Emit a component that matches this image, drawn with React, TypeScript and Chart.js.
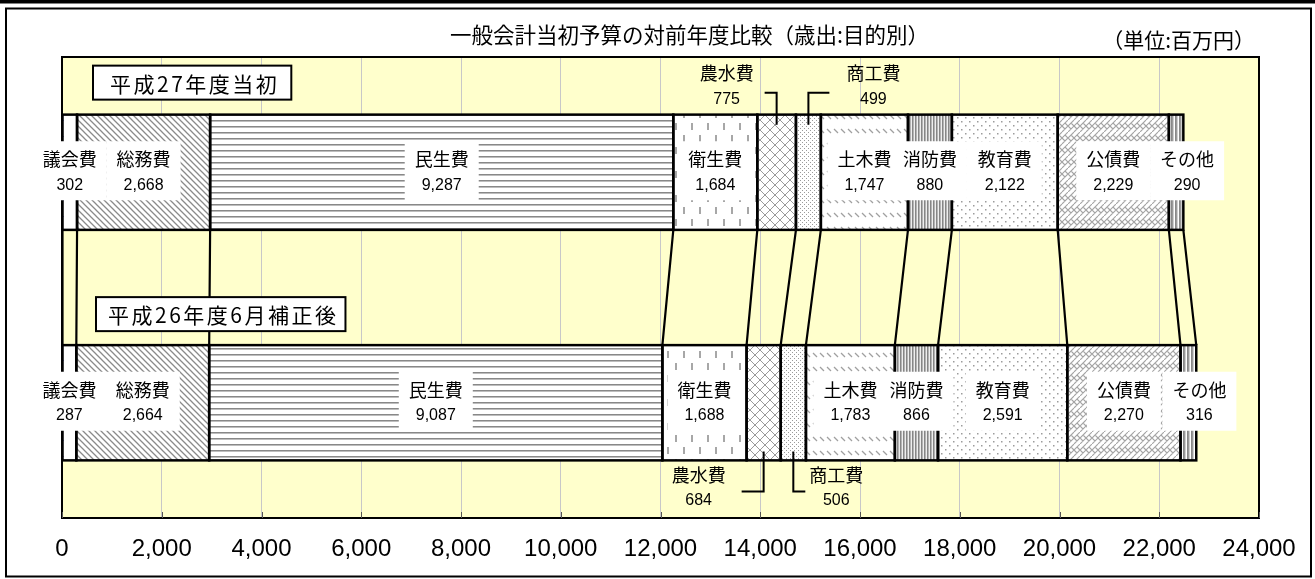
import React, { useEffect, useRef } from 'react';
import { Chart, registerables } from 'chart.js';

Chart.register(...registerables);

// ---------- data ----------
const periodLabels = ['平成27年度当初', '平成26年度6月補正後'];
const categories = ['議会費', '総務費', '民生費', '衛生費', '農水費', '商工費', '土木費', '消防費', '教育費', '公債費', 'その他'];
const valuesH27 = [302, 2668, 9287, 1684, 775, 499, 1747, 880, 2122, 2229, 290];
const valuesH26 = [287, 2664, 9087, 1688, 684, 506, 1783, 866, 2591, 2270, 316];
const xMin = 0;
const xMax = 24000;
const xStep = 2000;
const titleText = '一般会計当初予算の対前年度比較（歳出:目的別）';
const unitText = '（単位:百万円）';

// ---------- styles ----------
const CJK = '"Noto Sans CJK JP", "Noto Sans CJK SC", sans-serif';
const NUM = '"Liberation Sans", Arial, sans-serif';
const patternKinds = ['sparseDots', 'diagDown', 'horizontal', 'dashVertical', 'diagCross', 'fineDots', 'wideDiagDash', 'verticalDense', 'dotted', 'diagBrick', 'verticalWide'];
const insideLabelShift: Record<number, number> = { 10: 11 };
const outsideLabels: Record<number, { side: number; textDx: number[]; leaderLen: number[] }> = {
  4: { side: -1, textDx: [-50, -65], leaderLen: [12, 22] },
  5: { side: 1, textDx: [65, 43], leaderLen: [21, 12] },
};
const yearBoxStyle = [
  { dx: 31, padL: 17, padR: 12, gap: 15 },
  { dx: 34, padL: 12, padR: 7, gap: 14 },
];

function makeTile(w: number, h: number, draw: (g: CanvasRenderingContext2D) => void): CanvasPattern | string {
  const c = document.createElement('canvas');
  c.width = w;
  c.height = h;
  const g = c.getContext('2d') as CanvasRenderingContext2D;
  g.fillStyle = '#ffffff';
  g.fillRect(0, 0, w, h);
  draw(g);
  return g.createPattern(c, 'repeat') || '#ffffff';
}

function createPattern(kind: string): CanvasPattern | string {
  switch (kind) {
    case 'sparseDots':
      return makeTile(14, 16, (g) => { g.fillStyle = '#9aa0ff'; g.fillRect(7, 8, 1, 1); });
    case 'diagDown':
      return makeTile(6, 6, (g) => {
        g.strokeStyle = '#8a8a8a'; g.lineWidth = 1.3; g.beginPath();
        g.moveTo(-1, -1); g.lineTo(7, 7); g.moveTo(-1, 5); g.lineTo(1, 7); g.moveTo(5, -1); g.lineTo(7, 1);
        g.stroke();
      });
    case 'horizontal':
      return makeTile(4, 6, (g) => { g.fillStyle = '#888888'; g.fillRect(0, 0, 4, 1); g.fillStyle = '#bdbdbd'; g.fillRect(0, 1, 4, 1); });
    case 'dashVertical':
      return makeTile(16, 24, (g) => {
        g.strokeStyle = '#8a8a8a'; g.lineWidth = 1.5; g.beginPath();
        g.moveTo(4, 3); g.lineTo(4, 10); g.moveTo(12, 15); g.lineTo(12, 22); g.stroke();
      });
    case 'diagCross':
      return makeTile(10, 10, (g) => {
        g.strokeStyle = '#9a9a9a'; g.lineWidth = 1; g.beginPath();
        g.moveTo(0, 0); g.lineTo(10, 10); g.moveTo(10, 0); g.lineTo(0, 10); g.stroke();
      });
    case 'fineDots':
      return makeTile(4, 4, (g) => { g.fillStyle = '#9a9a9a'; g.fillRect(0, 0, 1, 1); g.fillRect(2, 2, 1, 1); });
    case 'wideDiagDash':
      return makeTile(7, 14, (g) => {
        g.strokeStyle = '#a0a0a0'; g.lineWidth = 1.2; g.beginPath(); g.moveTo(1, 3); g.lineTo(5, 7); g.stroke();
      });
    case 'verticalDense':
      return makeTile(3, 1, (g) => { g.fillStyle = '#868686'; g.fillRect(0, 0, 1, 1); g.fillStyle = '#b4b4b4'; g.fillRect(1, 0, 1, 1); g.fillStyle = '#eeeeee'; g.fillRect(2, 0, 1, 1); });
    case 'dotted':
      return makeTile(8, 8, (g) => { g.fillStyle = '#9c9c9c'; g.fillRect(1, 1, 1.5, 1.5); g.fillRect(5, 5, 1.5, 1.5); });
    case 'diagBrick':
      return makeTile(12, 12, (g) => {
        g.strokeStyle = '#a4a4a4'; g.lineWidth = 1.1; g.beginPath();
        g.moveTo(0, 6); g.lineTo(6, 0); g.moveTo(0, 12); g.lineTo(12, 0); g.moveTo(6, 12); g.lineTo(12, 6);
        g.moveTo(3, 3); g.lineTo(6, 6); g.moveTo(9, 3); g.lineTo(12, 6); g.moveTo(0, 6); g.lineTo(3, 9); g.moveTo(6, 6); g.lineTo(9, 9);
        g.stroke();
      });
    case 'verticalWide':
      return makeTile(4, 1, (g) => {
        g.fillStyle = '#9a9a9a'; g.fillRect(0, 0, 1, 1); g.fillStyle = '#cfcfcf'; g.fillRect(1, 0, 1, 1); g.fillStyle = '#888888'; g.fillRect(3, 0, 1, 1);
      });
    default:
      return '#ffffff';
  }
}

const fmt = (v: number) => v.toLocaleString('en-US');

const decorPlugin = {
  id: 'budgetDecor',
  beforeDraw(chart: any) {
    const { ctx, chartArea: a, width, height } = chart;
    ctx.save();
    ctx.fillStyle = '#ffffff';
    ctx.fillRect(0, 0, width, height);
    ctx.fillStyle = '#000000';
    ctx.fillRect(0, 0, width, 3.5);
    ctx.strokeStyle = '#000000';
    ctx.lineWidth = 2;
    ctx.strokeRect(6, 8.5, width - 10, height - 11);
    ctx.fillStyle = '#000000';
    ctx.textAlign = 'center';
    ctx.textBaseline = 'middle';
    ctx.font = `21.5px ${CJK}`;
    ctx.fillText(titleText, width / 2 + 32, 35);
    ctx.textAlign = 'right';
    ctx.font = `21px ${CJK}`;
    ctx.fillText(unitText, a.right - 4, 40);
    ctx.fillStyle = '#ffffcc';
    ctx.fillRect(a.left, a.top, a.right - a.left, a.bottom - a.top);
    ctx.restore();
  },
  afterDatasetsDraw(chart: any) {
    const { ctx, chartArea: a } = chart;
    const metas = categories.map((_, i) => chart.getDatasetMeta(i));
    const props = (i: number, r: number) => metas[i].data[r].getProps(['x', 'base', 'y', 'height'], true);
    ctx.save();
    // segment outlines
    ctx.strokeStyle = '#000000';
    ctx.lineWidth = 2.5;
    metas.forEach((m: any, i: number) => {
      m.data.forEach((_: any, r: number) => {
        const p = props(i, r);
        ctx.strokeRect(Math.min(p.x, p.base), p.y - p.height / 2, Math.abs(p.x - p.base), p.height);
      });
    });
    // connectors
    const t0 = props(0, 0);
    const b0 = props(0, 1);
    const yTop = t0.y + t0.height / 2;
    const yBot = b0.y - b0.height / 2;
    const topBounds = [t0.base, ...categories.map((_, i) => props(i, 0).x)];
    const botBounds = [b0.base, ...categories.map((_, i) => props(i, 1).x)];
    ctx.lineWidth = 2.2;
    ctx.beginPath();
    topBounds.forEach((x, k) => { ctx.moveTo(x, yTop); ctx.lineTo(botBounds[k], yBot); });
    ctx.stroke();
    // plot border
    ctx.lineWidth = 2;
    ctx.strokeRect(a.left, a.top, a.right - a.left, a.bottom - a.top);
    // inner tick marks
    const xs = chart.scales.x;
    ctx.strokeStyle = '#555555';
    ctx.lineWidth = 1;
    ctx.beginPath();
    xs.ticks.forEach((t: any) => {
      const px = Math.round(xs.getPixelForValue(t.value)) + 0.5;
      ctx.moveTo(px, a.bottom);
      ctx.lineTo(px, a.bottom - 6);
    });
    ctx.stroke();
    // outside labels with leaders
    ctx.strokeStyle = '#000000';
    ctx.lineWidth = 2;
    ctx.fillStyle = '#000000';
    ctx.textAlign = 'center';
    ctx.textBaseline = 'middle';
    Object.keys(outsideLabels).forEach((key) => {
      const i = Number(key);
      const cfg = outsideLabels[i];
      [valuesH27, valuesH26].forEach((vals, r) => {
        const p = props(i, r);
        const cx = (p.x + p.base) / 2;
        const top = p.y - p.height / 2;
        const bottom = p.y + p.height / 2;
        ctx.beginPath();
        let ly1: number;
        let ly2: number;
        if (r === 0) {
          const yl = top - 22;
          ctx.moveTo(cx, top + 10); ctx.lineTo(cx, yl); ctx.lineTo(cx + cfg.side * cfg.leaderLen[r], yl);
          ly1 = top - 41; ly2 = top - 15;
        } else {
          const yl = bottom + 31;
          ctx.moveTo(cx, bottom - 9); ctx.lineTo(cx, yl); ctx.lineTo(cx + cfg.side * cfg.leaderLen[r], yl);
          ly1 = bottom + 15; ly2 = bottom + 40;
        }
        ctx.stroke();
        ctx.font = `18px ${CJK}`;
        ctx.fillText(categories[i], cx + cfg.textDx[r], ly1);
        ctx.font = `16px ${NUM}`;
        ctx.fillText(fmt(vals[i]), cx + cfg.textDx[r], ly2);
      });
    });
    // year boxes
    periodLabels.forEach((label, r) => {
      const s = yearBoxStyle[r];
      const p = props(0, r);
      const barTop = p.y - p.height / 2;
      ctx.font = `21px ${CJK}`;
      (ctx as any).letterSpacing = '2.5px';
      const tw = ctx.measureText(label).width;
      const bw = tw + s.padL + s.padR;
      const bh = 34;
      const bx = a.left + s.dx;
      const by = barTop - s.gap - bh;
      ctx.fillStyle = '#ffffff';
      ctx.fillRect(bx, by, bw, bh);
      ctx.strokeStyle = '#000000';
      ctx.lineWidth = 2;
      ctx.strokeRect(bx, by, bw, bh);
      ctx.fillStyle = '#000000';
      ctx.textAlign = 'left';
      ctx.fillText(label, bx + s.padL, by + bh / 2 + 1);
      (ctx as any).letterSpacing = '0px';
    });
    // inside labels
    ctx.textAlign = 'center';
    [valuesH27, valuesH26].forEach((vals, r) => {
      categories.forEach((cat, i) => {
        if (outsideLabels[i]) return;
        const p = props(i, r);
        const cx = (p.x + p.base) / 2 + (insideLabelShift[i] || 0);
        const cy = p.y;
        ctx.font = `18px ${CJK}`;
        const w1 = ctx.measureText(cat).width;
        ctx.font = `16px ${NUM}`;
        const w2 = ctx.measureText(fmt(vals[i])).width;
        const bw = Math.max(w1, w2) + 20;
        const bh = 59;
        ctx.fillStyle = '#ffffff';
        ctx.fillRect(cx - bw / 2, cy - 1.5 - bh / 2, bw, bh);
        ctx.fillStyle = '#000000';
        ctx.font = `18px ${CJK}`;
        ctx.fillText(cat, cx, cy - 13);
        ctx.font = `16px ${NUM}`;
        ctx.fillText(fmt(vals[i]), cx, cy + 13);
      });
    });
    ctx.restore();
  },
};

export default function App() {
  const canvasRef = useRef<HTMLCanvasElement | null>(null);
  useEffect(() => {
    document.body.style.margin = '0';
    const canvas = canvasRef.current;
    if (!canvas) return;
    const datasets = categories.map((cat, i) => ({
      label: cat,
      data: [valuesH27[i], valuesH26[i]],
      backgroundColor: createPattern(patternKinds[i]),
      borderWidth: 0,
      barPercentage: 0.5,
      categoryPercentage: 1,
    }));
    const chart = new Chart(canvas, {
      type: 'bar',
      data: { labels: periodLabels, datasets },
      options: {
        indexAxis: 'y',
        animation: false,
        responsive: true,
        maintainAspectRatio: false,
        layout: { padding: { left: 62, right: 56, top: 57, bottom: 0 } },
        plugins: { legend: { display: false }, tooltip: { enabled: false }, title: { display: false } },
        scales: {
          x: {
            type: 'linear',
            min: xMin,
            max: xMax,
            stacked: true,
            ticks: {
              stepSize: xStep,
              color: '#000000',
              font: { family: NUM, size: 24 },
              padding: 17,
              maxRotation: 0,
              autoSkip: false,
              callback: (v: any) => Number(v).toLocaleString('en-US'),
            },
            grid: { color: '#c8c8c8', lineWidth: 1, drawTicks: false },
            border: { display: false },
            afterFit: (s: any) => { s.height = 61; },
          },
          y: { type: 'category', stacked: true, display: false, offset: true },
        },
      } as any,
      plugins: [decorPlugin],
    });
    return () => chart.destroy();
  }, []);
  return (
    <div style={{ position: 'relative', width: '1315px', height: '579px' }}>
      <canvas ref={canvasRef} />
    </div>
  );
}
